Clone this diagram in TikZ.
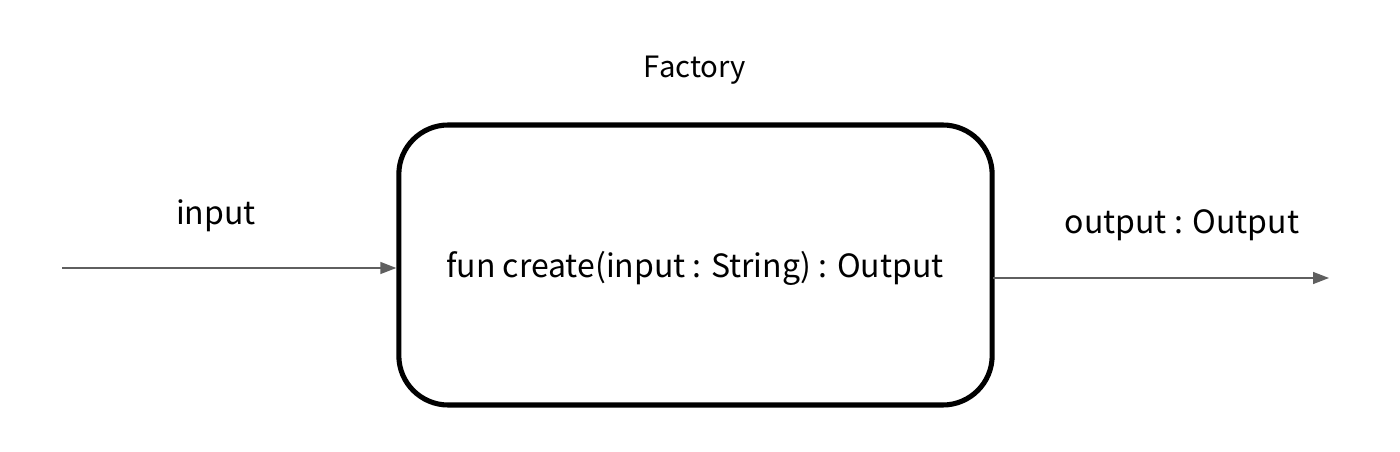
\documentclass[tikz,border=0pt]{standalone}
\usepackage{fontspec}
\setmainfont{Noto Sans CJK KR}
\usetikzlibrary{arrows.meta}
\definecolor{arrowgray}{HTML}{5F5F5F}
\tikzset{
  lbl/.style={font=\fontsize{24}{28}\selectfont, text=black, inner sep=0pt},
  smalllbl/.style={font=\fontsize{22}{26}\selectfont, text=black, inner sep=0pt},
  factorybox/.style={draw=black, line width=3.8pt, rounded corners=37pt, minimum width=445pt, minimum height=210pt, inner sep=0pt},
  flow/.style={draw=arrowgray, line width=1.1pt, -{Triangle[length=12pt,width=9pt]}}
}
\begin{document}
\begin{tikzpicture}[x=0.75pt,y=-0.75pt]
\useasboundingbox (0,0) rectangle (1400,452);
\node[factorybox] (box) at (695.5,265) {};
\node[lbl] (main) at (695,268) {fun create(input : String) : Output};
\node[smalllbl] (factory) at (695,70) {Factory};
\node[lbl] (inlbl) at (216,216) {input};
\node[lbl] (outlbl) at (1182,225) {output : Output};
\coordinate (src) at (62,268);
\coordinate (outstart) at (993,278);
\coordinate (sink) at (1329,278);
\draw[flow] (src) -- (src -| box.west);
\draw[flow] (outstart) -- (sink);
\end{tikzpicture}
\end{document}
